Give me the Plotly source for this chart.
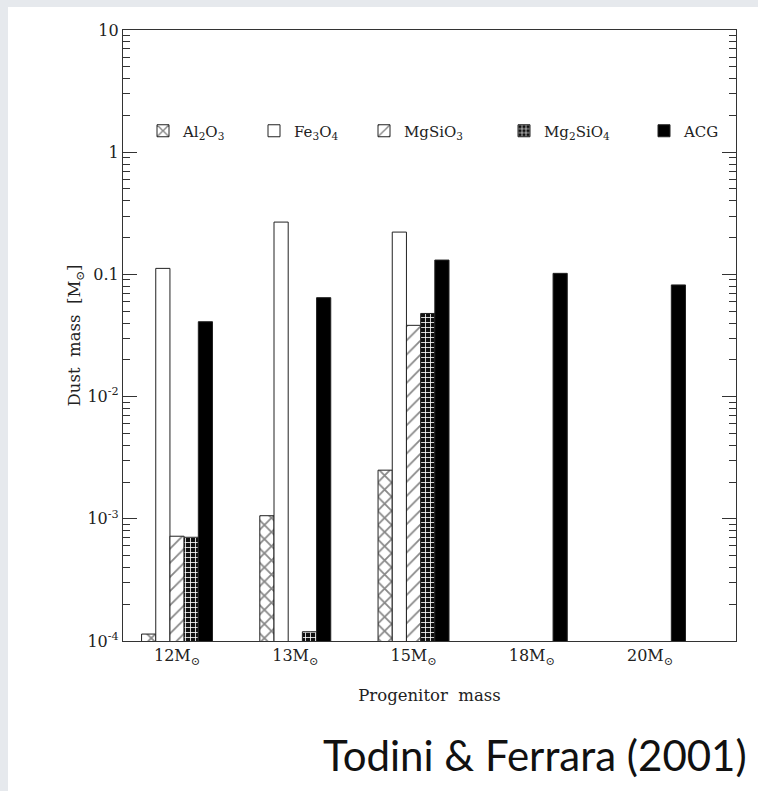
import plotly.graph_objects as go

# ---- data ----
groups = ["12M<sub>⊙</sub>", "13M<sub>⊙</sub>", "15M<sub>⊙</sub>", "18M<sub>⊙</sub>", "20M<sub>⊙</sub>"]
species = ["Al<sub>2</sub>O<sub>3</sub>", "Fe<sub>3</sub>O<sub>4</sub>", "MgSiO<sub>3</sub>",
           "Mg<sub>2</sub>SiO<sub>4</sub>", "ACG"]
al2o3 = [1.14e-4, 1.06e-3, 2.5e-3, None, None]
fe3o4 = [0.112, 0.268, 0.222, None, None]
mgsio3 = [7.2e-4, None, 0.0383, None, None]
mg2sio4 = [7.06e-4, 1.19e-4, 0.0479, None, None]
acg = [0.041, 0.0645, 0.131, 0.102, 0.082]
ytick_vals = [1e-4, 1e-3, 1e-2, 0.1, 1, 10]
ytick_text = ["10<sup>-4</sup>", "10<sup>-3</sup>", "10<sup>-2</sup>", "0.1", "1", "10"]

series = [al2o3, fe3o4, mgsio3, mg2sio4, acg]
styles = [
    dict(color="white", pattern=dict(shape="x", fgcolor="#111", bgcolor="white", size=10, solidity=0.33)),
    dict(color="white"),
    dict(color="white", pattern=dict(shape="/", fgcolor="#111", bgcolor="white", size=10, solidity=0.18)),
    dict(color="black", pattern=dict(shape="+", fgcolor="white", bgcolor="#111", size=5, solidity=0.3,
                                     fillmode="replace")),
    dict(color="black"),
]

SERIF = "DejaVu Serif"
W, H = 758, 791
L, R, T, B = 123, 22, 30, 150
pw, ph = W - L - R, H - T - B


def px_x(p):
    return (p - L) / pw


def px_y(p):
    return (H - B - p) / ph


# legend box left edges (px) for each species entry
legend_left_px = [143, 254, 364, 504, 644]
legend_ids = ["legend", "legend2", "legend3", "legend4", "legend5"]

fig = go.Figure()
for name, vals, st, lid in zip(species, series, styles, legend_ids):
    m = dict(st)
    m["line"] = dict(color="#222", width=1)
    fig.add_trace(go.Bar(x=groups, y=vals, name=name, marker=m, legend=lid))

legends = {}
for lid, lx in zip(legend_ids, legend_left_px):
    legends[lid] = dict(orientation="h", x=px_x(lx), y=px_y(131), xanchor="left", yanchor="middle",
                        bgcolor="rgba(0,0,0,0)", font=dict(size=15, family=SERIF, color="#222"),
                        itemwidth=30)

fig.update_layout(
    width=W, height=H,
    margin=dict(l=L, r=R, t=T, b=B, pad=0),
    paper_bgcolor="#e6e9ed",
    plot_bgcolor="white",
    barmode="group", bargap=0.4, bargroupgap=0,
    font=dict(family=SERIF, color="#222", size=14),
    showlegend=True,
    xaxis=dict(range=[-0.457, 4.727], showline=True, linecolor="#333", linewidth=1.2,
               mirror=True, ticks="", tickfont=dict(size=16, family=SERIF, color="#222"),
               title=dict(text="Progenitor&nbsp; mass", font=dict(size=16.5, family=SERIF, color="#222"),
                          standoff=22)),
    yaxis=dict(type="log", range=[-4, 1], showline=True, linecolor="#333", linewidth=1.2,
               mirror="allticks", ticks="inside", ticklen=14, tickcolor="#333",
               tickvals=ytick_vals, ticktext=ytick_text, showgrid=False, zeroline=False,
               tickfont=dict(size=16, family=SERIF, color="#222"),
               minor=dict(ticks="inside", ticklen=7, tickcolor="#333", dtick="D1", showgrid=False),
               title=dict(text="Dust&nbsp; mass&nbsp; [M<sub>⊙</sub>]",
                          font=dict(size=16.5, family=SERIF, color="#222"), standoff=2)),
    shapes=[dict(type="rect", xref="paper", yref="paper", x0=px_x(8), x1=px_x(W + 5),
                 y0=px_y(H + 5), y1=px_y(7), fillcolor="white", line=dict(width=0), layer="below")],
    annotations=[dict(text="Todini &amp; Ferrara (2001)", xref="paper", yref="paper",
                      x=px_x(749), y=px_y(755), xanchor="right", yanchor="middle",
                      showarrow=False, font=dict(family="Lato", size=42, color="#111"))],
    **legends,
)
fig.write_html("out.html")
